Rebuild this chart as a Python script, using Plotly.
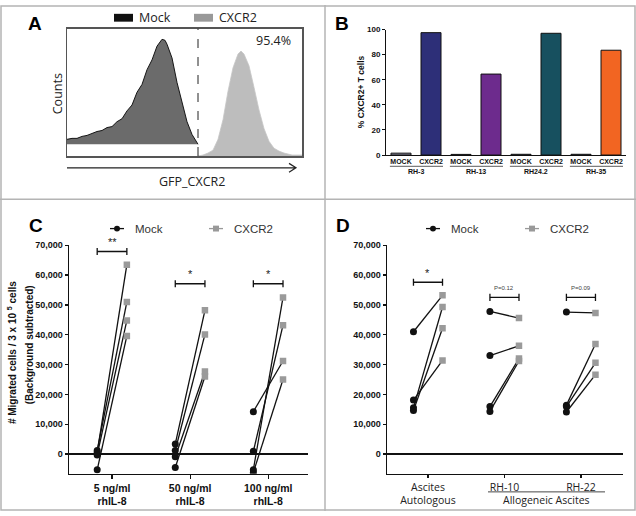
import plotly.graph_objects as go

W, H = 636, 516


def px(v):
    return v / W


def py(v):
    return 1 - v / H


# ---------------- Data ----------------
# Panel A: flow histograms (x: fluorescence channel, y: counts, arbitrary units)
HIST_MOCK_X = [0, 5, 10, 15, 20, 25, 30, 35, 40, 45, 50, 55, 60, 65, 70, 75, 80, 85,
               90, 95, 98, 100, 105, 110, 115, 120, 125, 130, 131]
HIST_MOCK_Y = [17, 18, 18, 20, 21, 23, 25, 26, 29, 30, 35, 38, 46, 52, 65, 73, 88, 98,
               112, 119, 118, 114, 100, 75, 55, 35, 22, 13, 12]
HIST_MOCK_BASE = 12
HIST_CXCR2_X = [131, 136, 141, 146, 151, 156, 161, 166, 171, 174, 177, 182, 187, 192,
                197, 202, 207, 212, 217, 225, 235]
HIST_CXCR2_Y = [0, 1, 3, 6, 17, 37, 66, 90, 104, 107, 104, 92, 70, 47, 28, 15, 8, 5, 3, 1, 1]
GATE_X = 131
GATE_PCT = "95.4%"

# Panel B: % CXCR2+ T cells
B_DONORS = ["RH-3", "RH-13", "RH24.2", "RH-35"]
B_CONDITIONS = ["MOCK", "CXCR2"]
B_MOCK = [1.5, 0.5, 0.6, 0.6]
B_CXCR2 = [97.5, 64.5, 97.0, 83.5]
B_CXCR2_COLORS = ["#2d2f78", "#6d2b8d", "#17505f", "#f26522"]
B_MOCK_COLORS = ["#8c8ca0", "#8c8ca0", "#8c8ca0", "#8c8ca0"]

# Panel C: migration towards rhIL-8
C_GROUPS = ["5 ng/ml<br>rhIL-8", "50 ng/ml<br>rhIL-8", "100 ng/ml<br>rhIL-8"]
C_MOCK = [[1200, 500, -300, -5300],
          [3400, 1200, -900, -4500],
          [14200, 900, -5300, -6200]]
C_CXCR2 = [[51000, 63500, 44800, 39600],
           [48200, 40100, 27700, 26000],
           [31200, 43200, 52500, 25000]]
C_SIG = ["**", "*", "*"]
C_SIG_Y = [67900, 57100, 57100]

# Panel D: migration towards ascites
D_GROUPS = ["Ascites<br>Autologous", "RH-10", "RH-22"]
D_MOCK = [[41000, 18100, 15500, 14600],
          [47800, 33000, 15900, 14300],
          [47600, 16400, 15900, 14100]]
D_CXCR2 = [[53200, 31400, 49300, 42200],
           [45600, 36300, 32000, 31200],
           [47300, 36900, 30600, 26600]]
D_SIG = ["*", "P=0.12", "P=0.09"]
D_SIG_Y = [57600, 52500, 52500]

Y_TICKS = [0, 10000, 20000, 30000, 40000, 50000, 60000, 70000]

# ---------------- Styles ----------------
SANS = "Liberation Sans, Arial, sans-serif"
OPEN = "Open Sans, sans-serif"
OFF = 0.19
MOCK_COLOR = "#111111"
CX_COLOR = "#9a9a9a"

fig = go.Figure()

# ---- Panel A ----
fig.add_trace(go.Scatter(x=HIST_MOCK_X, y=[HIST_MOCK_BASE] * len(HIST_MOCK_X), mode="lines",
                         line=dict(width=0, color="rgba(0,0,0,0)"), xaxis="x", yaxis="y",
                         hoverinfo="skip"))
fig.add_trace(go.Scatter(x=HIST_MOCK_X, y=HIST_MOCK_Y, mode="lines", fill="tonexty",
                         fillcolor="#6b6b6b", line=dict(color="#151515", width=1),
                         xaxis="x", yaxis="y", name="Mock"))
fig.add_trace(go.Scatter(x=HIST_CXCR2_X, y=HIST_CXCR2_Y, mode="lines", fill="tozeroy",
                         fillcolor="#bdbdbd", line=dict(color="#c6c6c6", width=0.8),
                         xaxis="x", yaxis="y", name="CXCR2"))

# ---- Panel B ----
b_x = list(range(len(B_DONORS) * 2))
b_y, b_c, b_text = [], [], []
for i in range(len(B_DONORS)):
    b_y += [B_MOCK[i], B_CXCR2[i]]
    b_c += [B_MOCK_COLORS[i], B_CXCR2_COLORS[i]]
    b_text += B_CONDITIONS
fig.add_trace(go.Bar(x=b_x, y=b_y, width=0.667,
                     marker=dict(color=b_c, line=dict(color="#111", width=1)),
                     xaxis="x2", yaxis="y2"))


# ---- Panels C & D ----
def add_pairs(mock, cx, xa, ya):
    for g in range(len(mock)):
        for m, c in zip(mock[g], cx[g]):
            fig.add_trace(go.Scatter(x=[g + 1 - OFF, g + 1 + OFF], y=[m, c], mode="lines",
                                     line=dict(color="#111", width=1.3), xaxis=xa, yaxis=ya,
                                     hoverinfo="skip"))
    for g in range(len(mock)):
        fig.add_trace(go.Scatter(x=[g + 1 - OFF] * len(mock[g]), y=mock[g], mode="markers",
                                 marker=dict(symbol="circle", size=7, color=MOCK_COLOR),
                                 xaxis=xa, yaxis=ya))
        fig.add_trace(go.Scatter(x=[g + 1 + OFF] * len(cx[g]), y=cx[g], mode="markers",
                                 marker=dict(symbol="square", size=6.5, color=CX_COLOR),
                                 xaxis=xa, yaxis=ya))


add_pairs(C_MOCK, C_CXCR2, "x3", "y3")
add_pairs(D_MOCK, D_CXCR2, "x4", "y4")

shapes = []
annotations = []

# panel frame
GRAY = "#b4b4b4"
shapes.append(dict(type="rect", xref="paper", yref="paper", x0=px(1), y0=py(515), x1=px(635),
                   y1=py(1), line=dict(color=GRAY, width=1.5)))
shapes.append(dict(type="line", xref="paper", yref="paper", x0=px(325), x1=px(325), y0=0, y1=1,
                   line=dict(color=GRAY, width=1.5)))
shapes.append(dict(type="line", xref="paper", yref="paper", x0=0, x1=1, y0=py(198), y1=py(198),
                   line=dict(color=GRAY, width=1.5)))


def ann(text, x, y, size, family=SANS, weight="normal", color="#111", angle=0,
        xanchor="center", yanchor="middle", xref="paper", yref="paper"):
    annotations.append(dict(text=text, x=x, y=y, xref=xref, yref=yref, showarrow=False,
                            textangle=angle, xanchor=xanchor, yanchor=yanchor,
                            font=dict(family=family, size=size, color=color, weight=weight)))


# panel letters
for letter, lx, ly in [("A", 35, 19), ("B", 342, 19), ("C", 36, 225), ("D", 343, 225)]:
    ann(letter, px(lx), py(ly), 19, weight="bold", color="#000")

# Panel A extras
shapes.append(dict(type="line", xref="x", yref="y", x0=GATE_X, x1=GATE_X, y0=0, y1=130,
                   line=dict(color="#222", width=1, dash="dash")))
shapes.append(dict(type="rect", xref="paper", yref="paper", x0=px(114), x1=px(133), y0=py(17),
                   y1=py(9), fillcolor="#111", line=dict(width=0)))
shapes.append(dict(type="rect", xref="paper", yref="paper", x0=px(194), x1=px(213), y0=py(17),
                   y1=py(9), fillcolor="#999", line=dict(width=0)))
ann("Mock", px(137), py(13), 12.5, family=OPEN, xanchor="left", color="#222")
ann("CXCR2", px(217), py(13), 12.5, family=OPEN, xanchor="left", color="#222")
ann(GATE_PCT, px(273), py(36), 12.5, family=OPEN, color="#222")
ann("Counts", px(57), py(90), 12.5, family=OPEN, angle=-90, color="#222")
ann("GFP_CXCR2", px(192), py(180), 12.5, family=OPEN, color="#222")
shapes.append(dict(type="path", xref="paper", yref="paper",
                   path=(f"M {px(67)},{py(166)} L {px(296)},{py(166)} "
                         f"M {px(289)},{py(161.5)} L {px(296)},{py(166)} L {px(289)},{py(170.5)}"),
                   line=dict(color="#222", width=1.2)))

# Panel B extras
ann("% CXCR2+ T cells", px(361), py(89), 8.5, weight="bold", angle=-90)
for i, donor in enumerate(B_DONORS):
    c = 2 * i + 0.5
    shapes.append(dict(type="line", xref="x2", yref="paper", x0=c - 0.87, x1=c + 0.9,
                       y0=py(164.5), y1=py(164.5), line=dict(color="#333", width=0.8)))
    ann(donor, c, py(170), 7, weight="bold", xref="x2")

# Legends C, D
for lx0, mx0 in [(110, 209), (426, 525)]:
    shapes.append(dict(type="line", xref="paper", yref="paper", x0=px(lx0), x1=px(lx0 + 14),
                       y0=py(228), y1=py(228), line=dict(color="#111", width=1.3)))
    shapes.append(dict(type="circle", xref="paper", yref="paper", x0=px(lx0 + 4), x1=px(lx0 + 10),
                       y0=py(231), y1=py(225), fillcolor="#111", line=dict(width=0)))
    shapes.append(dict(type="line", xref="paper", yref="paper", x0=px(mx0), x1=px(mx0 + 14),
                       y0=py(228), y1=py(228), line=dict(color="#999", width=1.3)))
    shapes.append(dict(type="rect", xref="paper", yref="paper", x0=px(mx0 + 4), x1=px(mx0 + 10),
                       y0=py(231), y1=py(225), fillcolor="#999", line=dict(width=0)))
    ann("Mock", px(lx0 + 23), py(228), 11.5, xanchor="left", color="#333")
    ann("CXCR2", px(mx0 + 23), py(228), 11.5, xanchor="left", color="#333")

# C y-axis title
ann("# Migrated cells / 3 x 10 <sup>5</sup> cells", px(12), py(355), 10, weight="bold",
    angle=-90)
ann("(Background subtracted)", px(29), py(347), 10, weight="bold", angle=-90)


# significance brackets
def brackets(sig, sig_y, xr, yr, small_size):
    for g, (lab, yv) in enumerate(zip(sig, sig_y)):
        x0, x1 = g + 1 - OFF, g + 1 + OFF
        shapes.append(dict(type="line", xref=xr, yref=yr, x0=x0, x1=x1, y0=yv, y1=yv,
                           line=dict(color="#111", width=1.3)))
        for xe in (x0, x1):
            shapes.append(dict(type="line", xref=xr, yref=yr, x0=xe, x1=xe, y0=yv - 1200,
                               y1=yv + 1200, line=dict(color="#111", width=1.3)))
        if lab.startswith("P"):
            ann(lab, g + 1, yv + 1400, small_size, xref=xr, yref=yr, yanchor="bottom",
                color="#444")
        else:
            ann(lab, g + 1, yv + 500, 11, xref=xr, yref=yr, yanchor="bottom", color="#222")


brackets(C_SIG, C_SIG_Y, "x3", "y3", 6)
brackets(D_SIG, D_SIG_Y, "x4", "y4", 6)

# D allogeneic label
shapes.append(dict(type="line", xref="paper", yref="paper", x0=px(488), x1=px(605), y0=py(496.5),
                   y1=py(496.5), line=dict(color="#333", width=0.9)))
ann("Allogeneic Ascites", px(546), py(505), 10.5, family=OPEN, color="#222")

# ---------------- Axes ----------------
frame = dict(showline=True, mirror=True, linecolor="#555", linewidth=1.5, showgrid=False,
             zeroline=False, showticklabels=False, ticks="", fixedrange=True)

bold_tick = dict(family=SANS, color="#111", weight="bold")


def yaxis_cd(domain_anchor):
    return dict(anchor=domain_anchor, domain=[py(478), py(245)], range=[-6600, 70000],
                tickvals=Y_TICKS, tickformat=",d", ticks="outside", ticklen=3, tickwidth=1.2,
                tickcolor="#111", showline=True, linecolor="#111", linewidth=1.5,
                showgrid=False, zeroline=True, zerolinecolor="#111", zerolinewidth=1.5,
                tickfont=dict(size=9, **bold_tick))


fig.update_layout(
    width=W, height=H, margin=dict(l=0, r=0, t=0, b=0),
    paper_bgcolor="white", plot_bgcolor="white", showlegend=False,
    xaxis=dict(domain=[px(67), px(302)], range=[0, 235], anchor="y", **frame),
    yaxis=dict(domain=[py(154), py(24)], range=[0, 130], anchor="x", **frame),
    xaxis2=dict(domain=[px(386), px(626)], range=[-0.5, 7.5], anchor="y2", tickvals=b_x,
                ticktext=b_text, ticks="", showline=True, linecolor="#111", linewidth=1,
                showgrid=False, zeroline=False, tickfont=dict(size=7, **bold_tick)),
    yaxis2=dict(domain=[py(153), py(25)], range=[0, 100], anchor="x2",
                tickvals=[0, 20, 40, 60, 80, 100], ticks="outside", ticklen=3, tickwidth=1,
                tickcolor="#111", showline=True, linecolor="#111", linewidth=1,
                showgrid=False, zeroline=False, tickfont=dict(size=8, **bold_tick)),
    xaxis3=dict(domain=[px(69), px(308)], range=[0.449, 3.51], anchor="y3",
                tickvals=[1, 2, 3], ticktext=C_GROUPS, ticks="outside", ticklen=4,
                tickwidth=1.2, tickcolor="#111", showline=True, linecolor="#111",
                linewidth=1.5, showgrid=False, zeroline=False,
                tickfont=dict(size=10.5, **bold_tick)),
    yaxis3=yaxis_cd("x3"),
    xaxis4=dict(domain=[px(387), px(623)], range=[0.464, 3.55], anchor="y4",
                tickvals=[1, 2, 3], ticktext=D_GROUPS, ticks="outside", ticklen=3,
                tickwidth=1.2, tickcolor="#111", showline=True, linecolor="#111",
                linewidth=1.5, showgrid=False, zeroline=False,
                tickfont=dict(size=10.5, family=OPEN, color="#222")),
    yaxis4=yaxis_cd("x4"),
    shapes=shapes,
    annotations=annotations,
)

fig.write_html("out.html", config={"displayModeBar": False, "staticPlot": True},
               post_script="document.body.style.margin='0';document.body.style.overflow='hidden';")
